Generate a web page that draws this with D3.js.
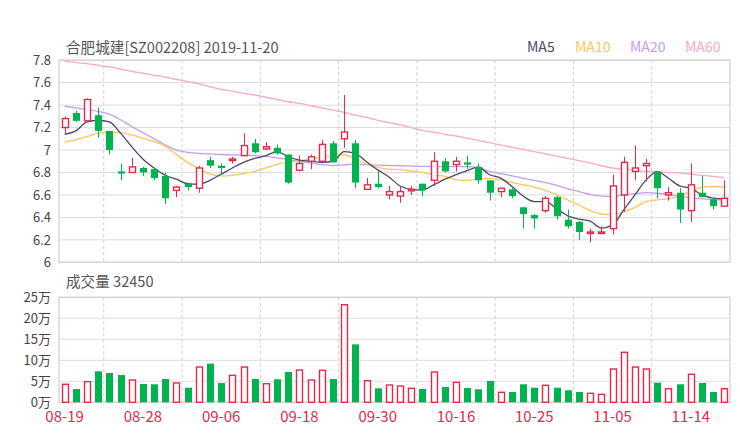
<!DOCTYPE html>
<html><head><meta charset="utf-8">
<script src="https://cdn.jsdelivr.net/npm/d3@7/dist/d3.min.js"></script>
<style>
html,body{margin:0;padding:0;background:#fff;}
svg{display:block;font-family:"Noto Sans CJK SC","Noto Sans",sans-serif;}
</style></head><body>
<svg id="c" width="740" height="440"></svg>
<script>
const dates = ["08-19","08-20","08-21","08-22","08-23","08-26","08-27","08-28","08-29","08-30",
"09-02","09-03","09-04","09-05","09-06","09-09","09-10","09-11","09-12","09-16",
"09-17","09-18","09-19","09-20","09-23","09-24","09-25","09-26","09-30","10-08",
"10-09","10-10","10-11","10-14","10-15","10-16","10-17","10-18","10-21","10-22",
"10-23","10-24","10-25","10-28","10-29","10-30","10-31","11-01","11-04","11-05",
"11-06","11-07","11-08","11-11","11-12","11-13","11-14","11-15","11-18","11-19"];
const open  = [7.20,7.33,7.26,7.31,7.17,6.81,6.80,6.84,6.83,6.77,
6.64,6.70,6.66,6.91,6.86,6.91,6.95,7.06,7.01,7.02,
6.96,6.82,6.90,6.90,7.06,7.10,7.06,6.65,6.70,6.60,
6.59,6.64,6.70,6.73,6.90,6.87,6.89,6.85,6.73,6.63,
6.65,6.49,6.42,6.46,6.58,6.38,6.36,6.26,6.26,6.30,
6.60,6.81,6.86,6.81,6.60,6.62,6.46,6.62,6.56,6.50];
const close = [7.28,7.26,7.45,7.17,7.00,6.79,6.85,6.80,6.75,6.57,
6.67,6.67,6.84,6.86,6.84,6.92,7.04,6.98,7.03,6.97,
6.71,6.88,6.94,7.05,6.89,7.16,6.71,6.69,6.67,6.63,
6.63,6.65,6.64,6.90,6.81,6.90,6.87,6.73,6.62,6.66,
6.59,6.43,6.39,6.57,6.41,6.32,6.27,6.27,6.27,6.68,
6.89,6.84,6.88,6.66,6.62,6.47,6.69,6.58,6.50,6.57];
const high  = [7.30,7.35,7.46,7.38,7.17,6.88,6.93,6.85,6.84,6.80,
6.68,6.71,6.86,6.94,6.88,6.94,7.15,7.10,7.07,7.05,
6.96,6.95,6.96,7.09,7.08,7.49,7.09,6.75,6.82,6.68,
6.67,6.68,6.70,6.98,6.93,6.94,6.95,6.88,6.73,6.66,
6.66,6.49,6.43,6.59,6.59,6.47,6.37,6.30,6.32,6.78,
6.94,7.04,6.92,6.81,6.67,6.66,6.88,6.77,6.57,6.73];
const low   = [7.14,7.25,7.25,7.11,6.96,6.73,6.80,6.77,6.73,6.52,
6.58,6.64,6.62,6.84,6.79,6.88,6.95,6.97,7.00,6.96,
6.70,6.81,6.83,6.90,6.89,7.02,6.66,6.65,6.66,6.56,
6.53,6.60,6.59,6.68,6.80,6.81,6.83,6.70,6.55,6.58,
6.57,6.30,6.30,6.44,6.38,6.30,6.20,6.18,6.25,6.25,
6.45,6.73,6.72,6.57,6.55,6.35,6.36,6.58,6.47,6.50];
const volume = [42900,31700,49000,73800,69800,65000,53100,43600,42900,55500,
46000,34800,84000,92000,46000,64300,84000,55500,44300,54800,
72100,76900,53100,76200,55500,232400,138000,51400,33300,41200,
38800,33300,31700,72100,36400,47600,34000,31000,50700,23800,
24500,42900,34800,40500,34800,28600,24500,21400,19000,79300,
119000,84000,79300,46700,32400,42900,66700,46000,24500,32450];
const ma5  = [7.14,7.17,7.25,7.265,7.25,7.15,7.03,6.92,6.84,6.775,
6.74,6.70,6.695,6.73,6.785,6.84,6.89,6.925,6.95,6.985,
6.94,6.91,6.90,6.89,6.90,6.985,6.97,6.895,6.823,6.76,
6.68,6.65,6.645,6.69,6.74,6.78,6.817,6.847,6.78,6.75,
6.675,6.59,6.541,6.541,6.476,6.414,6.384,6.366,6.304,6.333,
6.467,6.60,6.734,6.808,6.749,6.68,6.66,6.60,6.571,6.565];
const ma10 = [7.07,7.09,7.12,7.15,7.16,7.155,7.135,7.105,7.075,7.035,
6.96,6.89,6.835,6.785,6.77,6.775,6.79,6.81,6.84,6.875,
6.89,6.905,6.92,6.935,6.95,6.958,6.92,6.875,6.845,6.83,
6.825,6.815,6.80,6.78,6.765,6.735,6.73,6.74,6.748,6.735,
6.712,6.69,6.67,6.64,6.60,6.555,6.51,6.46,6.43,6.425,
6.45,6.49,6.54,6.556,6.565,6.59,6.635,6.668,6.675,6.668];
const ma20 = [7.39,7.375,7.36,7.345,7.32,7.27,7.21,7.155,7.10,7.045,
7.00,6.98,6.97,6.965,6.96,6.957,6.955,6.95,6.945,6.93,
6.915,6.90,6.885,6.87,6.862,6.868,6.875,6.87,6.865,6.862,
6.86,6.857,6.855,6.853,6.853,6.853,6.853,6.84,6.81,6.79,
6.77,6.75,6.73,6.71,6.685,6.655,6.63,6.605,6.59,6.586,
6.60,6.612,6.62,6.615,6.605,6.59,6.572,6.565,6.558,6.556];
const ma60 = [7.79,7.78,7.77,7.755,7.74,7.72,7.70,7.685,7.665,7.65,
7.63,7.61,7.59,7.565,7.54,7.525,7.505,7.49,7.47,7.45,
7.43,7.415,7.395,7.375,7.355,7.335,7.31,7.29,7.265,7.245,
7.225,7.20,7.175,7.16,7.14,7.125,7.105,7.085,7.065,7.045,
7.025,7.005,6.985,6.965,6.945,6.925,6.905,6.885,6.86,6.84,
6.83,6.82,6.81,6.805,6.80,6.795,6.785,6.775,6.765,6.755];
const priceTicks = [6,6.2,6.4,6.6,6.8,7,7.2,7.4,7.6,7.8];
const volTicks = [0,50000,100000,150000,200000,250000];
const labelIdx = [0,7,14,21,28,35,42,49,56];
const gridIdx = [4,11,18,25,32,39,46,53];
const maNames = ["MA5","MA10","MA20","MA60"];
const maColors = ["#4a4868","#fcc65e","#c69ced","#fca7cb"];
const title = "合肥城建[SZ002208] 2019-11-20";
const volTitle = "成交量 32450";

const RED = "#e6294b", GREEN = "#00b34f";
const svg = d3.select("#c");
const L = 59, R = 730;
const x = d3.scaleBand().domain(d3.range(dates.length)).range([L, R]);
const bw = x.bandwidth();
const cx = i => x(i) + bw / 2;
const yP = d3.scaleLinear().domain([6, 7.8]).range([262.3, 60.2]);
const yV = d3.scaleLinear().domain([0, 250000]).range([402.3, 297.3]);

// grids
const g = svg.append("g");
g.selectAll(".hp").data(priceTicks).join("line")
  .attr("x1", L).attr("x2", R).attr("y1", d => yP(d)).attr("y2", d => yP(d))
  .attr("stroke", "#dcdcdc").attr("stroke-width", 1);
g.selectAll(".hv").data(volTicks).join("line")
  .attr("x1", L).attr("x2", R).attr("y1", d => yV(d)).attr("y2", d => yV(d))
  .attr("stroke", "#dcdcdc").attr("stroke-width", 1);
gridIdx.forEach(i => {
  [[yP(7.8), yP(6)], [yV(250000), yV(0)]].forEach(([a, b]) => {
    g.append("line").attr("x1", x(i)).attr("x2", x(i)).attr("y1", a).attr("y2", b)
      .attr("stroke", "#cfcfcf").attr("stroke-dasharray", "3,3");
  });
});
// borders
[[yP(7.8), yP(6)], [yV(250000), yV(0)]].forEach(([a, b]) => {
  g.append("rect").attr("x", L).attr("y", a).attr("width", R - L).attr("height", b - a)
    .attr("fill", "none").attr("stroke", "#d0d0d0").attr("stroke-width", 1.2);
});

// axes labels
const axP = svg.append("g").attr("transform", `translate(${L},0)`)
  .call(d3.axisLeft(yP).tickValues(priceTicks).tickSize(0).tickPadding(8).tickFormat(d => d3.format("~g")(d)));
const axV = svg.append("g").attr("transform", `translate(${L},0)`)
  .call(d3.axisLeft(yV).tickValues(volTicks).tickSize(0).tickPadding(8).tickFormat(d => (d / 10000) + "万"));
[axP, axV].forEach(a => {
  a.select(".domain").remove();
  a.selectAll("text").attr("font-size", 13).attr("fill", "#444").attr("font-family", '"Noto Sans CJK SC",sans-serif');
});
const axX = svg.append("g").attr("transform", `translate(0,405)`)
  .call(d3.axisBottom(x).tickValues(labelIdx).tickSize(0).tickPadding(6).tickFormat(i => dates[i]));
axX.select(".domain").remove();
axX.selectAll("text").attr("font-size", 15).attr("fill", RED).attr("font-family", '"Noto Sans CJK SC",sans-serif');

// MA lines
const line = arr => d3.line().x((d, i) => cx(i)).y(d => yP(d)).curve(d3.curveMonotoneX)(arr);
[ma60, ma20, ma10, ma5].forEach((arr, k) => {
  const idx = 3 - k;
  svg.append("path").attr("d", line(arr)).attr("fill", "none")
    .attr("stroke", maColors[idx]).attr("stroke-width", 1.3);
});

// candles
const data = dates.map((d, i) => ({i, o: open[i], c: close[i], h: high[i], l: low[i], v: volume[i]}));
const cw = 6;
const cg = svg.append("g");
data.forEach(d => {
  const up = d.c >= d.o;
  const col = up ? RED : GREEN;
  const X = Math.round(cx(d.i)) + 0.5;
  cg.append("line").attr("x1", X).attr("x2", X).attr("y1", yP(d.h)).attr("y2", yP(d.l))
    .attr("stroke", col).attr("stroke-width", 1);
  const top = yP(Math.max(d.o, d.c)), bot = yP(Math.min(d.o, d.c));
  const h = Math.max(bot - top, 1.5);
  if (up) {
    cg.append("rect").attr("x", X - cw / 2).attr("y", top).attr("width", cw).attr("height", h)
      .attr("fill", "#fff").attr("stroke", col).attr("stroke-width", 1.4);
  } else {
    cg.append("rect").attr("x", X - cw / 2 - 0.5).attr("y", top).attr("width", cw + 1).attr("height", h)
      .attr("fill", col);
  }
});

// volume bars
const vw = 7;
data.forEach(d => {
  const up = d.c >= d.o;
  const X = Math.round(cx(d.i)) + 0.5;
  const top = yV(d.v), bot = yV(0);
  if (up) {
    cg.append("rect").attr("x", X - vw / 2 + 0.5).attr("y", top).attr("width", vw - 1).attr("height", bot - top)
      .attr("fill", "#fff").attr("stroke", RED).attr("stroke-width", 1.4);
  } else {
    cg.append("rect").attr("x", X - vw / 2).attr("y", top).attr("width", vw).attr("height", bot - top)
      .attr("fill", GREEN);
  }
});

// titles
svg.append("text").attr("x", 66).attr("y", 53).attr("font-size", 14.6).attr("fill", "#555").text(title);
svg.append("text").attr("x", 66).attr("y", 287).attr("font-size", 14.6).attr("fill", "#555").text(volTitle);
const legX = [527, 575, 630, 685];
maNames.forEach((n, k) => {
  svg.append("text").attr("x", legX[k]).attr("y", 52).attr("font-size", 14).attr("fill", maColors[k]).text(n);
});
</script></body></html>
